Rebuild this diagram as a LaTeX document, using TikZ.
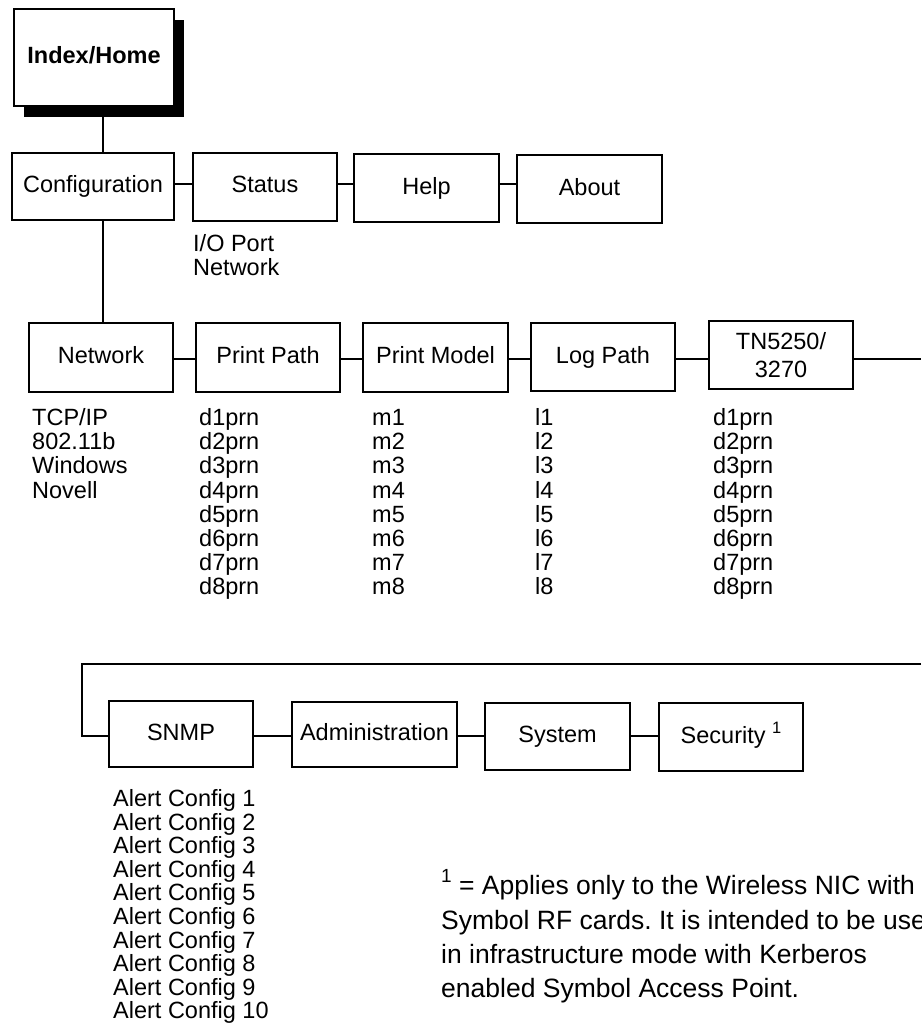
\documentclass[tikz,border=0pt]{standalone}
\usepackage{fontspec}
\setmainfont{Liberation Sans}
\usetikzlibrary{calc,shadows}
\frenchspacing
\begin{document}
\begin{tikzpicture}[x=1pt,y=-1pt,
  box/.style={draw, line width=2pt, fill=white, minimum width=144pt, minimum height=68pt,
    inner sep=0pt, font=\fontsize{23.5}{28}\selectfont, text height=17pt, text depth=5pt},
  lst/.style={anchor=base west, inner sep=0pt, font=\fontsize{23.5}{24}\selectfont},
  fn/.style={anchor=base west, inner sep=0pt, font=\fontsize{26.5}{30}\selectfont},
  conn/.style={line width=2pt}]
\useasboundingbox (0,0) rectangle (921,1027);
\clip (0,0) rectangle (921,1027);
% level coordinates
\coordinate (vx) at (103,0);
\coordinate (r1) at (0,184);
\coordinate (r2) at (0,359);
\coordinate (r3) at (0,736);
\coordinate (e1) at (921,359);
\coordinate (e2) at (921,664);
\coordinate (lc) at (82,664);
% vertical connectors (drawn first; boxes are filled white)
\draw[conn] (103,60) -- (103,153);
\draw[conn] (103,220) -- (103,323);
% nodes
\node[box, minimum width=160pt, minimum height=97pt, font=\fontsize{23.5}{28}\bfseries,
  drop shadow={shadow xshift=10pt, shadow yshift=-11pt, opacity=1, fill=black}] (idx) at (94,57.5) {Index/Home};
\node[box, minimum width=162pt, minimum height=67pt] (cfg) at (93,186.5) {Configuration};
\node[box] (status) at (265,187) {Status};
\node[box, minimum width=145pt] (help) at (426.5,188) {Help};
\node[box, minimum width=145pt] (about) at (589.5,189) {About};
\node[box, minimum height=69pt] (net) at (101,357.5) {Network};
\node[box, minimum height=69pt] (ppath) at (268,357.5) {Print Path};
\node[box, minimum width=145pt, minimum height=69pt] (pmodel) at (435.5,357.5) {Print Model};
\node[box] (lpath) at (603,357) {Log Path};
\node[box, text height=, text depth=, align=center, font=\fontsize{23.5}{28}\selectfont] (tn) at (781,355) {TN5250/\\3270};
\node[box, minimum height=66pt] (snmp) at (181,734) {SNMP};
\node[box, minimum width=165pt, minimum height=65pt] (admin) at (374.5,734.5) {Administration};
\node[box, minimum width=145pt, minimum height=67pt] (system) at (557.5,736.5) {System};
\node[box] (security) at (731,737) {Security \raisebox{10pt}{\fontsize{16.5}{16.5}\selectfont 1}};
% horizontal connectors
\draw[conn] (cfg.east |- r1) -- (status.west |- r1);
\draw[conn] (status.east |- r1) -- (help.west |- r1);
\draw[conn] (help.east |- r1) -- (about.west |- r1);
\draw[conn] (net.east |- r2) -- (ppath.west |- r2);
\draw[conn] (ppath.east |- r2) -- (pmodel.west |- r2);
\draw[conn] (pmodel.east |- r2) -- (lpath.west |- r2);
\draw[conn] (lpath.east |- r2) -- (tn.west |- r2);
\draw[conn] (tn.east |- r2) -- (e1);
\draw[conn] (e2) -- (lc) |- (snmp.west |- r3);
\draw[conn] (snmp.east |- r3) -- (admin.west |- r3);
\draw[conn] (admin.east |- r3) -- (system.west |- r3);
\draw[conn] (system.east |- r3) -- (security.west |- r3);
% lists
\node[lst] (io1) at (193,251.5) {I/O Port};
\node[lst] (io2) at (193,275) {Network};
\foreach \t [count=\i] in {TCP/IP,802.11b,Windows,Novell}
  \node[lst] (netl\i) at (32,{425.5+24.2*(\i-1)}) {\t};
\foreach \i in {1,...,8} {
  \node[lst] (ppl\i) at (199,{425.5+24.2*(\i-1)}) {d\i prn};
  \node[lst] (pml\i) at (372,{425.5+24.2*(\i-1)}) {m\i};
  \node[lst] (lpl\i) at (535,{425.5+24.2*(\i-1)}) {l\i};
  \node[lst] (tnl\i) at (713,{425.5+24.2*(\i-1)}) {d\i prn};
}
\foreach \i in {1,...,10}
  \node[lst] (acl\i) at (113,{806.5+23.6*(\i-1)}) {Alert Config \i};
% footnote
\node[fn] (fn1) at (441,894) {\raisebox{12pt}{\fontsize{19}{19}\selectfont 1} = Applies only to the Wireless NIC with};
\node[fn] (fn2) at (441,929) {Symbol RF cards. It is intended to be used};
\node[fn] (fn3) at (441,963) {in infrastructure mode with Kerberos};
\node[fn] (fn4) at (441,997) {enabled Symbol Access Point.};
\end{tikzpicture}
\end{document}
